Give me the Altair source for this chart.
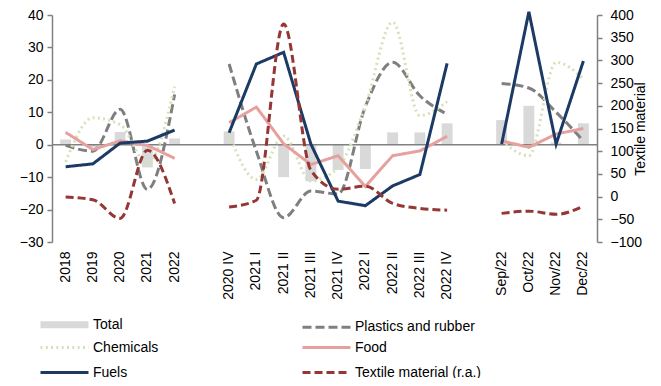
import altair as alt
import pandas as pd

# ---- categories ----
cats_annual = ["2018", "2019", "2020", "2021", "2022"]
cats_q = ["2020 IV", "2021 I", "2021 II", "2021 III", "2021 IV",
          "2022 I", "2022 II", "2022 III", "2022 IV"]
cats_m = ["Sep/22", "Oct/22", "Nov/22", "Dec/22"]
gap1, gap2 = " ", "  "
x_domain = cats_annual + [gap1] + cats_q + [gap2] + cats_m

# ---- series values (left axis, %) ----
total_a = [1.6, -0.8, 3.9, -7.0, 1.9]
total_q = [4.1, 0.0, -10.0, -11.3, -7.8, -7.5, 3.8, 3.8, 6.6]
total_m = [7.6, 12.0, 0.7, 6.6]

plastics_a = [-0.2, -2.0, 10.9, -13.8, 15.5]
plastics_q = [24.9, -2.0, -22.5, -14.3, -15.2, 11.8, 25.4, 15.1, 9.4]
plastics_m = [18.9, 17.5, 10.0, 1.2]

chem_a = [-5.3, 8.3, 6.2, -5.8, 17.9]
chem_q = [3.1, -10.7, 2.7, -11.2, -7.0, 12.0, 37.8, 9.0, 13.3]
chem_m = [1.2, -3.4, 25.4, 20.3]

food_a = [3.8, -1.5, 1.2, -0.2, -4.2]
food_q = [6.8, 11.6, 0.3, -6.1, -3.4, -12.9, -3.4, -1.9, 2.6]
food_m = [1.2, -0.8, 3.3, 5.0]

fuels_a = [-6.8, -5.9, 0.5, 1.1, 4.5]
fuels_q = [3.7, 24.9, 28.5, 0.2, -17.4, -18.8, -12.7, -9.2, 25.1]
fuels_m = [0.2, 41.0, 0.2, 25.8]

# ---- right axis ----
textile_a = [-1, -7, -48, 102, -15]
textile_q = [-23, -8, 380, 58, 16, 23, -15, -26, -30]
textile_m = [-37, -32, -39, -21]

left_ticks = list(range(-30, 41, 10))
right_ticks = list(range(-100, 401, 50))

# legend fills column by column
series_order = ["Total", "Chemicals", "Fuels", "Plastics and rubber", "Food",
                "Textile material (r.a.)"]
colors = ["#d9d9d9", "#d5e2b9", "#1b3a64", "#7f7f7f", "#e6a19f", "#953735"]
dashes = [[1, 0], [2, 3.3], [1, 0], [9, 4], [1, 0], [8, 4]]
widths = [7, 3, 3, 3, 3, 3]

rows = []
def add(name, a, q, m):
    for seg, cats, vals in ((1, cats_annual, a), (2, cats_q, q), (3, cats_m, m)):
        for c, v in zip(cats, vals):
            rows.append({"series": name, "cat": c, "value": v, "seg": seg,
                         "idx": x_domain.index(c)})

add("Total", total_a, total_q, total_m)
add("Plastics and rubber", plastics_a, plastics_q, plastics_m)
add("Chemicals", chem_a, chem_q, chem_m)
add("Food", food_a, food_q, food_m)
add("Fuels", fuels_a, fuels_q, fuels_m)
add("Textile material (r.a.)", textile_a, textile_q, textile_m)
df = pd.DataFrame(rows)
zero_df = pd.DataFrame({"value": [0]})

FONT = "Liberation Sans"

legend_kw = dict(
    title=None, orient="none", legendX=3, legendY=300, columns=2,
    columnPadding=76, rowPadding=1, gridAlign="all",
    symbolType="M-4,0H4", symbolSize=144,
    labelOffset=19, labelFontSize=14, labelFont=FONT, labelColor="black",
)

x_enc = alt.X(
    "cat:N",
    scale=alt.Scale(domain=x_domain, paddingInner=0.6, paddingOuter=0.3),
    axis=alt.Axis(title=None, labelAngle=270, labelAlign="right",
                  labelBaseline="middle", ticks=False, domain=False,
                  labelPadding=9, labelFontSize=14),
)
y_left = alt.Y(
    "value:Q",
    scale=alt.Scale(domain=[-30, 40], nice=False, zero=False),
    axis=alt.Axis(title=None, orient="left", values=left_ticks,
                  grid=False, labelPadding=4, labelOverlap=False),
)
color_enc = alt.Color("series:N", scale=alt.Scale(domain=series_order, range=colors),
                      legend=alt.Legend(**legend_kw))
dash_enc = alt.StrokeDash("series:N", scale=alt.Scale(domain=series_order, range=dashes),
                          legend=alt.Legend(**legend_kw))
width_enc = alt.StrokeWidth("series:N",
                            scale=alt.Scale(type="ordinal", domain=series_order, range=widths),
                            legend=alt.Legend(**legend_kw))

base = alt.Chart(df)

bars = base.transform_filter(alt.datum.series == "Total").mark_bar().encode(
    x=x_enc, y=y_left, color=color_enc)

zero = alt.Chart(zero_df).mark_rule(color="#808080", strokeWidth=1.5).encode(
    y=y_left)

smooth = base.transform_filter(
    alt.FieldOneOfPredicate(field="series", oneOf=["Chemicals", "Plastics and rubber"])
).mark_line(interpolate="monotone").encode(
    x=x_enc, y=y_left, color=color_enc, strokeDash=dash_enc, strokeWidth=width_enc,
    detail="seg:N", order=alt.Order("idx:Q"))

straight = base.transform_filter(
    alt.FieldOneOfPredicate(field="series", oneOf=["Food", "Fuels"])
).mark_line(interpolate="linear").encode(
    x=x_enc, y=y_left, color=color_enc, strokeDash=dash_enc, strokeWidth=width_enc,
    detail="seg:N", order=alt.Order("idx:Q"))

left = alt.layer(bars, zero, smooth, straight)

textile = base.transform_filter(
    alt.datum.series == "Textile material (r.a.)"
).mark_line(interpolate="monotone").encode(
    x=x_enc,
    y=alt.Y("value:Q", scale=alt.Scale(domain=[-100, 400], nice=False, zero=False),
            axis=alt.Axis(title="Textile material", orient="right",
                          values=right_ticks, grid=False,
                          labelPadding=8, titleAngle=270, titlePadding=6,
                          labelOverlap=False)),
    color=color_enc, strokeDash=dash_enc, strokeWidth=width_enc,
    detail="seg:N", order=alt.Order("idx:Q"))

chart = alt.layer(left, textile).resolve_scale(y="independent").properties(
    width=545, height=227,
    padding={"left": 44, "top": 7, "right": 56, "bottom": 136},
    autosize=alt.AutoSizeParams(type="none"),
).configure(font=FONT).configure_view(stroke=None).configure_axis(
    labelFont=FONT, labelFontSize=14, labelColor="black",
    titleFont=FONT, titleFontSize=14, titleFontWeight="normal", titleColor="black",
    domainColor="#808080", domainWidth=1.5, tickColor="#808080", tickSize=5,
    tickWidth=1.5, labelOverlap=False,
)

chart.save("out.html", embed_options={"renderer": "svg", "actions": False})
